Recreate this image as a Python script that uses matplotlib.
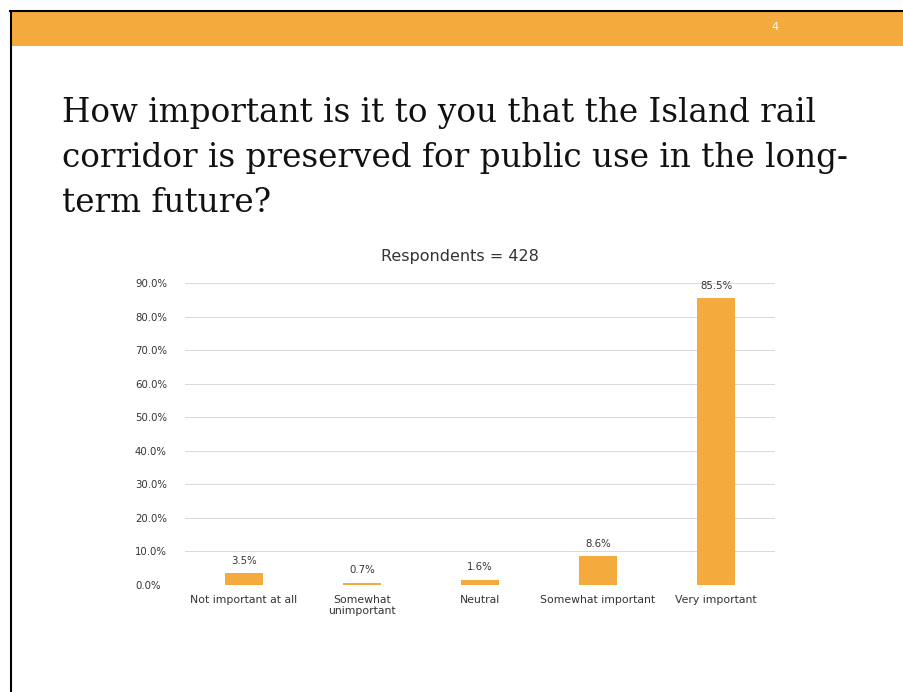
import matplotlib.pyplot as plt
from matplotlib.patches import Rectangle
from matplotlib.lines import Line2D

categories = ["Not important at all", "Somewhat\nunimportant", "Neutral",
              "Somewhat important", "Very important"]
shares = [3.5, 0.7, 1.6, 8.6, 85.5]
yticks = [0, 10, 20, 30, 40, 50, 60, 70, 80, 90]
title_lines = ["How important is it to you that the Island rail",
               "corridor is preserved for public use in the long-",
               "term future?"]

W, H = 904, 692
orange = "#F5AA3E"

fig = plt.figure(figsize=(W / 100, H / 100), dpi=100)

# slide frame: orange header band + black edges
fig.patches.append(Rectangle((10 / W, 1 - 46 / H), 1, 34 / H, transform=fig.transFigure,
                             facecolor=orange, edgecolor="none", zorder=0))
fig.lines.append(Line2D([10 / W, 1], [1 - 11 / H] * 2, transform=fig.transFigure,
                        color="black", lw=1.5))
fig.lines.append(Line2D([11 / W] * 2, [0, 1 - 11 / H], transform=fig.transFigure,
                        color="black", lw=1.5))
fig.text(775 / W, 1 - 27 / H, "4", color="white", fontsize=8, ha="center", va="center")

# title, one line at a time (baselines)
for i, line in enumerate(title_lines):
    fig.text(62 / W, 1 - (122 + 45 * i) / H, line, family="DejaVu Serif",
             fontsize=23.5, ha="left", va="baseline", color="#111111")

fig.text(460 / W, 1 - 256 / H, "Respondents = 428", fontsize=11.5, ha="center",
         va="center", color="#333333")

ax = fig.add_axes([185 / W, 107 / H, 590 / W, 302 / H])
x = range(len(categories))
ax.bar(x, shares, width=0.32, color=orange, zorder=2)
for xi, v in zip(x, shares):
    ax.text(xi, v + 2.2, f"{v:.1f}%", ha="center", va="bottom", fontsize=7.3,
            color="#333333")

ax.set_xlim(-0.5, len(categories) - 0.5)
ax.set_ylim(0, 90)
ax.set_yticks(yticks)
ax.set_yticklabels([f"{t:.1f}%" for t in yticks], fontsize=7.3, color="#333333",
                   ha="left")
ax.tick_params(axis="y", length=0, pad=36)
ax.set_xticks(list(x))
ax.set_xticklabels(categories, fontsize=7.8, color="#333333", linespacing=1.1)
ax.tick_params(axis="x", length=0, pad=7)
ax.grid(axis="y", color="#d9d9d9", lw=0.7, zorder=0)
for s in ax.spines.values():
    s.set_visible(False)

fig.savefig("out.png", dpi=100)
